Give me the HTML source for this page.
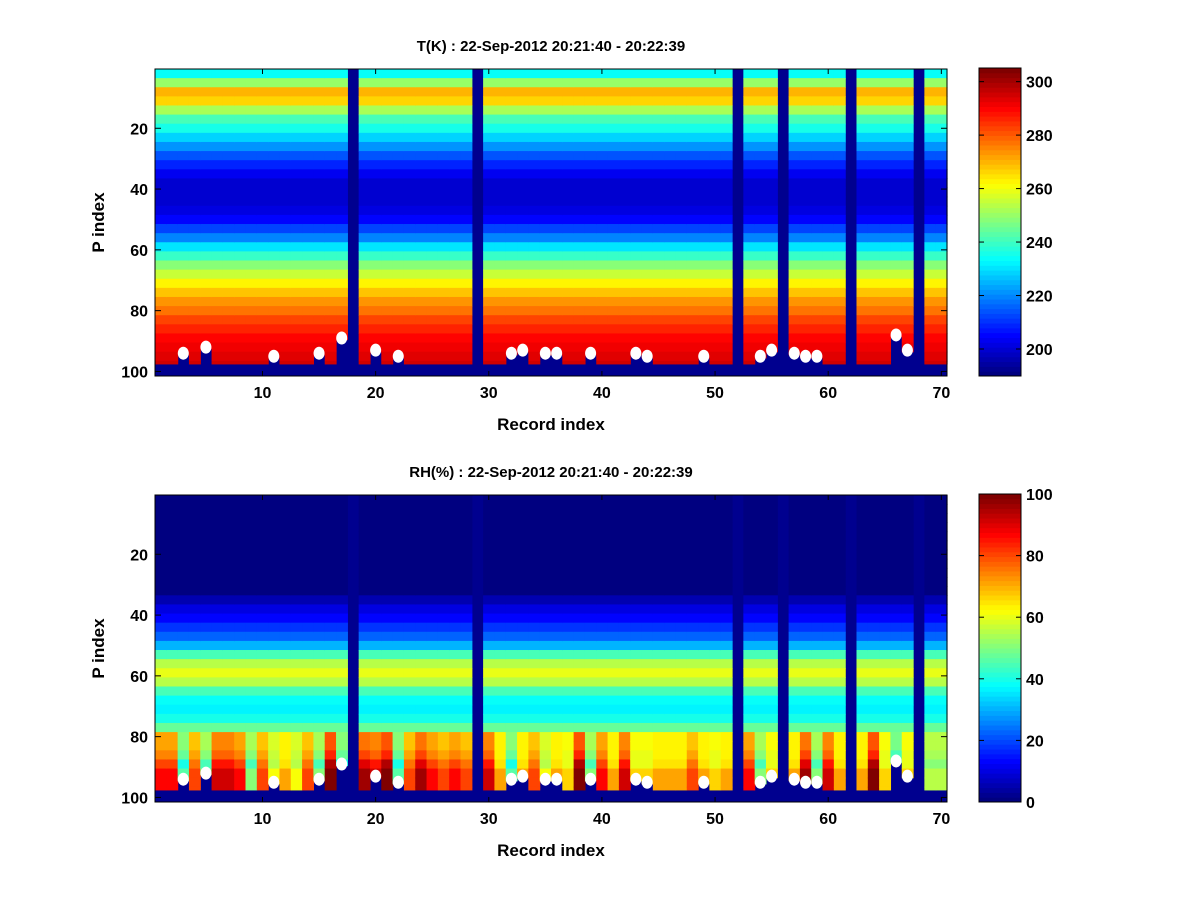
<!DOCTYPE html>
<html><head><meta charset="utf-8">
<style>
body{margin:0;background:#fff;}
svg{display:block;font-family:"Liberation Sans",sans-serif;font-weight:bold;}
</style></head>
<body>
<svg id="fig" width="1200" height="900" viewBox="0 0 1200 900">
<rect width="1200" height="900" fill="#fff"/>
</svg>
<script>
// ---- data ----
const records = Array.from({length:70},(_,i)=>i+1);
const missingCols = [18,29,52,56,62,68];
const dotCols = [3,5,11,15,17,20,22,32,33,35,36,39,43,44,49,54,55,57,58,59,66,67];
const dotP    = [94,92,95,94,89,93,95,94,93,94,94,94,94,95,95,95,93,94,95,95,88,93];
// temperature profile by 3-row level (rows 1-3, 4-6, ...)
const tempProfile = [234,250,270,266,252,242,235,228,222,215,208,203,200,199,199,201,205,212,220,230,240,248,255,262,268,273,278,282,286,289,292,294,296];
// RH profile by 3-row level (upper part); lower rows use rhLow per column
const rhProfile = [1,1,1,1,1,1,1,1,1,1,1,5,10,14,18,22,30,45,55,60,56,45,38,36,40,48];
const rhLow = [80,80,40,75,45,85,85,80,45,75,55,65,55,75,45,95,40,0,90,85,95,40,75,90,80,75,80,75,0,85,65,40,65,75,55,65,60,95,45,80,65,85,60,60,65,65,65,75,65,60,65,0,80,45,60,0,65,90,45,85,65,0,65,95,60,35,60,0,50,50];
const tTicks = [200,220,240,260,280,300];
const rhTicks = [0,20,40,60,80,100];
const xTicks = [10,20,30,40,50,60,70];
const yTicks = [20,40,60,80,100];

const NS="http://www.w3.org/2000/svg";
const svg=document.getElementById('fig');
function el(tag,attrs,parent){const e=document.createElementNS(NS,tag);for(const k in attrs)e.setAttribute(k,attrs[k]);(parent||svg).appendChild(e);return e;}
function jet(t){t=Math.max(0,Math.min(1,t));const c=v=>Math.round(255*Math.max(0,Math.min(1,v)));
 return `rgb(${c(1.5-Math.abs(4*t-3))},${c(1.5-Math.abs(4*t-2))},${c(1.5-Math.abs(4*t-1))})`;}
const q=t=>Math.floor(Math.max(0,Math.min(0.9999,t))*64)/63;
const DARK="rgb(0,0,143)";

function panel(top,title,clim,valueAt,cbTicks,nameKey){
 const L=155,R=947,T=top,B=top+307;
 const xs=v=>L+(v-0.5)*(R-L)/70;
 const ys=p=>T+(p-0.5)*(B-T)/101;
 const g=el('g',{});
 
 
 const hm=el('g',{},g);
 
 
 el('rect',{x:L,y:T,width:R-L,height:B-T,fill:DARK},hm);
 records.forEach(c=>{
  if(missingCols.includes(c))return;
  const di=dotCols.indexOf(c);const surf=di>=0?dotP[di]:97;
  for(let lv=0;lv<34;lv++){
   const r0=lv*3+1;if(r0>surf)break;
   const r1=Math.min(lv*3+3,surf);
   const v=valueAt(c,lv,r0);
   if(v==null)continue;
   const cell=el('rect',{x:xs(c-0.5),y:ys(r0-0.5),width:(R-L)/70+0.6,height:ys(r1+0.5)-ys(r0-0.5)+0.6,fill:jet(q((v-clim[0])/(clim[1]-clim[0])))},hm);
   
   
  }
 });
 dotCols.forEach((c,i)=>{
  const d=el('ellipse',{cx:xs(c),cy:ys(dotP[i]),rx:5.5,ry:6.5,fill:'#fff'},g);
  
  
 });
 el('rect',{x:L,y:T,width:R-L,height:B-T,fill:'none',stroke:'#000','stroke-width':1},g);
 xTicks.forEach(v=>{
  el('line',{x1:xs(v),x2:xs(v),y1:B,y2:B-5,stroke:'#000'},g);
  el('line',{x1:xs(v),x2:xs(v),y1:T,y2:T+5,stroke:'#000'},g);
  const t=el('text',{x:xs(v),y:B+22,'text-anchor':'middle','font-size':16},g);t.textContent=v;
  
  
 });
 yTicks.forEach(v=>{
  el('line',{x1:L,x2:L+6,y1:ys(v),y2:ys(v),stroke:'#000'},g);
  el('line',{x1:R,x2:R-6,y1:ys(v),y2:ys(v),stroke:'#000'},g);
  const t=el('text',{x:L-7,y:ys(v)+6,'text-anchor':'end','font-size':16},g);t.textContent=v;
  
  
 });
 const tt=el('text',{x:551,y:T-18,'text-anchor':'middle','font-size':15},g);tt.textContent=title;
 
 
 const xl=el('text',{x:551,y:B+54,'text-anchor':'middle','font-size':17},g);xl.textContent='Record index';
 
 
 const yl=el('text',{x:0,y:0,'text-anchor':'middle','font-size':17,transform:`translate(104,${(T+B)/2}) rotate(-90)`},g);yl.textContent='P index';
 
 
 // colorbar
 const cb=el('g',{},g);
 
 
 const CL=979,CR=1021,CT=T-1,CB=B;
 for(let i=0;i<64;i++){
  el('rect',{x:CL,y:CB-(i+1)*(CB-CT)/64,width:CR-CL,height:(CB-CT)/64+0.5,fill:jet(i/63)},cb);
 }
 el('rect',{x:CL,y:CT,width:CR-CL,height:CB-CT,fill:'none',stroke:'#000'},cb);
 const cy=v=>CB-(v-clim[0])/(clim[1]-clim[0])*(CB-CT);
 cbTicks.forEach(v=>{
  el('line',{x1:CR,x2:CR-5,y1:cy(v),y2:cy(v),stroke:'#000'},cb);
  el('line',{x1:CL,x2:CL+5,y1:cy(v),y2:cy(v),stroke:'#000'},cb);
  const t=el('text',{x:CR+5,y:cy(v)+6,'font-size':16},cb);t.textContent=v;
  
  
 });
}
panel(69,'T(K) : 22-Sep-2012 20:21:40 - 20:22:39',[189.9,305.1],(c,lv)=>tempProfile[lv],tTicks,'temperature');
panel(495,'RH(%) : 22-Sep-2012 20:21:40 - 20:22:39',[0,100],(c,lv,r0)=>{
 if(lv<rhProfile.length)return rhProfile[lv];
 let v=rhLow[c-1];
 if(r0<=82)v=(v+62)/2;
 else if(r0<=85)v=(2*v+62)/3;
 else if(r0>=91)v=Math.min(100,v+6);
 return v;
},rhTicks,'humidity');
</script>
</body></html>
